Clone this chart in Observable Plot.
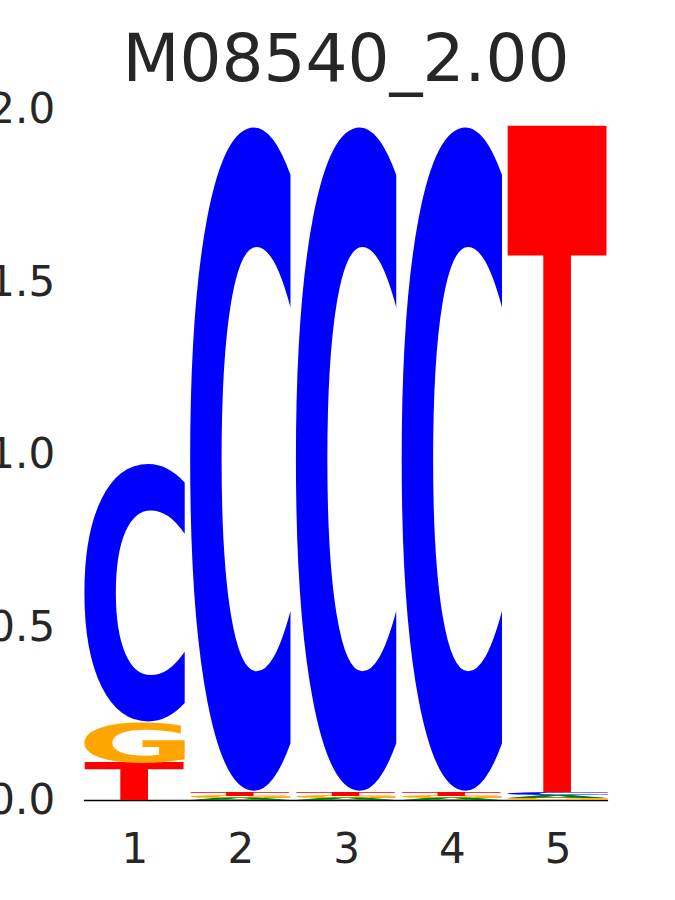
<!DOCTYPE html>
<html><head><meta charset="utf-8">
<script src="https://cdn.jsdelivr.net/npm/d3@7"></script>
<script src="https://cdn.jsdelivr.net/npm/@observablehq/plot@0.6"></script>
<style>
body{margin:0;background:#fff;}
#wrap{position:relative;width:675px;height:900px;overflow:hidden;}
#title{position:absolute;left:84px;width:524px;top:26px;text-align:center;font-family:"DejaVu Sans";font-size:66px;line-height:66px;color:#262626;white-space:nowrap;}
#chart{position:absolute;left:0;top:100px;}
</style></head>
<body><div id="wrap"><div id="title"></div><div id="chart"></div></div>
<script>
const title = "M08540_2.00";
const positions = [1, 2, 3, 4, 5];
const bases = ["A", "C", "G", "T"];
const heightA = [0.000, 0.006, 0.006, 0.006, 0.008];
const heightC = [0.754, 1.943, 1.943, 1.943, 0.008];
const heightG = [0.118, 0.006, 0.006, 0.006, 0.007];
const heightT = [0.108, 0.011, 0.011, 0.011, 1.943];
const baseColors = {A: "#008000", C: "#0000ff", G: "#ffa500", T: "#ff0000"};
const yTicks = [0, 0.5, 1, 1.5, 2];

document.getElementById("title").textContent = title;

const heights = {A: heightA, C: heightC, G: heightG, T: heightT};
const letters = [];
positions.forEach((p, i) => {
  const col = bases.map(b => ({base: b, h: heights[b][i]})).filter(d => d.h > 0);
  col.sort((a, b) => a.h - b.h);
  let y = 0;
  for (const d of col) { letters.push({pos: p, base: d.base, y1: y, y2: y + d.h}); y += d.h; }
});

// glyph ink metrics (large size to reduce rounding)
const FS = 1000;
const cv = document.createElement("canvas");
const ctx = cv.getContext("2d");
ctx.font = `bold ${FS}px 'DejaVu Sans'`;
const metrics = {};
for (const b of bases) {
  const m = ctx.measureText(b);
  metrics[b] = {L: m.actualBoundingBoxLeft, R: m.actualBoundingBoxRight, A: m.actualBoundingBoxAscent, D: m.actualBoundingBoxDescent};
}

const halfW = 0.478;
function letterMark(index, scales) {
  const g = d3.create("svg:g");
  for (const r of letters) {
    const X1 = scales.x(r.pos - halfW), X2 = scales.x(r.pos + halfW);
    const Yt = scales.y(r.y2), Yb = scales.y(r.y1);
    const m = metrics[r.base];
    const sx = (X2 - X1) / (m.L + m.R), sy = (Yb - Yt) / (m.A + m.D);
    g.append("text")
      .attr("transform", `translate(${X1},${Yt}) scale(${sx},${sy}) translate(${m.L},${m.A})`)
      .attr("font-family", "DejaVu Sans").attr("font-weight", "bold").attr("font-size", FS)
      .attr("text-anchor", "start").attr("fill", baseColors[r.base]).text(r.base);
  }
  return g.node();
}

const plot = Plot.plot({
  width: 675, height: 800,
  marginLeft: 81.6, marginRight: 64.6, marginTop: 9, marginBottom: 100,
  x: {domain: [0.5, 5.5]},
  y: {domain: [0, 2]},
  style: {fontFamily: "DejaVu Sans", fontSize: "42px", color: "#262626", background: "white", overflow: "visible"},
  marks: [
    Plot.axisY(yTicks, {tickSize: 0, tickPadding: 27, tickFormat: d3.format(".1f"), label: null, fontSize: 42}),
    Plot.axisX(positions, {tickSize: 0, tickPadding: 33, tickFormat: d => String(d), label: null, fontSize: 42}),
    Plot.ruleY([0], {x1: 1 - halfW, x2: 5 + halfW, stroke: "black", strokeWidth: 1.5}),
    letterMark
  ]
});
document.getElementById("chart").appendChild(plot);
</script>
</body></html>
